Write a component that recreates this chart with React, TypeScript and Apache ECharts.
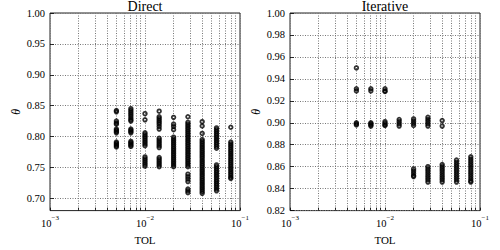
import React, { useEffect, useRef } from "react";
import * as echarts from "echarts";

const TOL = [0.005, 0.0071, 0.01, 0.0141, 0.02, 0.0283, 0.04, 0.0566, 0.08];

const directTheta: number[][] = [
  [0.842, 0.84, 0.825, 0.822, 0.82, 0.812, 0.81, 0.808, 0.806, 0.791, 0.789, 0.787, 0.785, 0.783],
  [0.845, 0.842, 0.839, 0.836, 0.833, 0.83, 0.827, 0.825, 0.812, 0.81, 0.808, 0.806, 0.792, 0.79, 0.788, 0.786, 0.784],
  [0.837, 0.827, 0.806, 0.803, 0.8, 0.797, 0.794, 0.791, 0.788, 0.785, 0.767, 0.764, 0.761, 0.758, 0.755, 0.752],
  [0.841, 0.832, 0.829, 0.826, 0.823, 0.82, 0.816, 0.812, 0.797, 0.794, 0.791, 0.788, 0.785, 0.782, 0.766, 0.763, 0.76, 0.757, 0.754, 0.751],
  [0.831, 0.82, 0.816, 0.811, 0.799, 0.796, 0.793, 0.79, 0.787, 0.784, 0.781, 0.778, 0.775, 0.772, 0.769, 0.766, 0.763, 0.76, 0.757, 0.754, 0.751],
  [0.832, 0.823, 0.82, 0.817, 0.814, 0.811, 0.808, 0.805, 0.802, 0.799, 0.796, 0.793, 0.79, 0.787, 0.784, 0.781, 0.778, 0.775, 0.772, 0.769, 0.766, 0.763, 0.76, 0.757, 0.754, 0.751, 0.739, 0.735, 0.731, 0.727, 0.715, 0.712, 0.709],
  [0.824, 0.817, 0.805, 0.795, 0.792, 0.789, 0.786, 0.783, 0.78, 0.777, 0.774, 0.771, 0.768, 0.765, 0.762, 0.759, 0.756, 0.753, 0.75, 0.747, 0.744, 0.741, 0.738, 0.735, 0.732, 0.729, 0.726, 0.723, 0.72, 0.717, 0.714, 0.711, 0.708],
  [0.814, 0.811, 0.808, 0.805, 0.802, 0.799, 0.796, 0.793, 0.79, 0.787, 0.784, 0.781, 0.754, 0.751, 0.748, 0.745, 0.742, 0.739, 0.736, 0.733, 0.73, 0.727, 0.724, 0.721, 0.718, 0.715, 0.712],
  [0.815, 0.791, 0.788, 0.785, 0.782, 0.779, 0.776, 0.773, 0.77, 0.767, 0.764, 0.761, 0.758, 0.755, 0.752, 0.749, 0.746, 0.743, 0.74, 0.737, 0.734, 0.732],
];

const iterativeTheta: number[][] = [
  [0.95, 0.931, 0.929, 0.9, 0.899, 0.898],
  [0.931, 0.929, 0.9, 0.899, 0.898, 0.897],
  [0.931, 0.929, 0.9285, 0.901, 0.8995, 0.898, 0.8975],
  [0.903, 0.901, 0.899, 0.897],
  [0.9035, 0.9015, 0.8995, 0.8975, 0.858, 0.856, 0.854, 0.852, 0.851],
  [0.905, 0.903, 0.901, 0.899, 0.897, 0.86, 0.858, 0.856, 0.854, 0.852, 0.85, 0.848, 0.846],
  [0.902, 0.897, 0.862, 0.86, 0.858, 0.856, 0.854, 0.852, 0.85, 0.848, 0.846],
  [0.866, 0.864, 0.862, 0.86, 0.858, 0.856, 0.854, 0.852, 0.85, 0.848, 0.846],
  [0.869, 0.867, 0.865, 0.863, 0.861, 0.859, 0.857, 0.855, 0.853, 0.851, 0.849, 0.847, 0.846],
];

const xMajorExponents = [-3, -2, -1];
const xMinorFactors = [1, 2, 3, 4, 5, 6, 7, 8, 9];
const directYTicks = [0.7, 0.75, 0.8, 0.85, 0.9, 0.95, 1.0];
const iterativeYTicks = [0.82, 0.84, 0.86, 0.88, 0.9, 0.92, 0.94, 0.96, 0.98, 1.0];

const FONT = "Liberation Serif";

function buildPoints(theta: number[][]) {
  const pts: number[][] = [];
  TOL.forEach((t, i) => {
    theta[i].forEach((v) => pts.push([Math.log10(t), v]));
  });
  return pts;
}

export default function App() {
  const ref = useRef<HTMLDivElement>(null);
  useEffect(() => {
    if (!ref.current) return;
    const chart = echarts.init(ref.current, undefined, { renderer: "svg" });
    const gridTicks: number[] = [];
    xMajorExponents.slice(0, -1).forEach((e) => {
      xMinorFactors.forEach((k) => gridTicks.push(Math.log10(k) + e));
    });
    gridTicks.push(xMajorExponents[xMajorExponents.length - 1]);

    const grids = [
      { left: 50, width: 190, top: 13, height: 211 },
      { left: 290, width: 190, top: 13, height: 211 },
    ];

    const xAxis = grids.map((_, i) => ({
      type: "value",
      gridIndex: i,
      min: -3,
      max: -1,
      name: "TOL",
      nameLocation: "middle",
      nameGap: 13,
      nameTextStyle: { fontFamily: FONT, fontSize: 11, color: "#000" },
      axisLine: { show: false },
      axisTick: {
        show: true,
        inside: true,
        length: 3,
        customValues: gridTicks,
        lineStyle: { color: "#000", width: 0.8 },
      },
      axisLabel: {
        customValues: xMajorExponents,
        margin: 4,
        formatter: (v: number) => `{b|10}{s|\u2212${Math.round(-v)}}`,
        rich: {
          b: { fontFamily: FONT, fontSize: 10.5, color: "#000", lineHeight: 18 },
          s: { fontFamily: FONT, fontSize: 7, color: "#000", verticalAlign: "top" },
        },
      },
      splitLine: {
        show: true,
        lineStyle: { color: "#777", type: [1, 1.5], width: 1 },
      },
    }));

    const yAxis = [
      { ticks: directYTicks, min: 0.68 },
      { ticks: iterativeYTicks, min: 0.82 },
    ].map((cfg, i) => ({
      type: "value",
      gridIndex: i,
      min: cfg.min,
      max: 1.0,
      name: "\u03b8",
      nameLocation: "middle",
      nameGap: 28,
      nameTextStyle: { fontFamily: FONT, fontSize: 12, fontStyle: "italic", color: "#000" },
      axisLine: { show: false },
      axisTick: {
        show: true,
        inside: true,
        length: 4,
        customValues: cfg.ticks,
        lineStyle: { color: "#000", width: 0.8 },
      },
      axisLabel: {
        customValues: cfg.ticks,
        margin: 5,
        fontFamily: FONT,
        fontSize: 10.5,
        color: "#000",
        formatter: (v: number) => v.toFixed(2),
      },
      splitLine: {
        show: true,
        lineStyle: { color: "#777", type: [1, 1.5], width: 1 },
      },
    }));

    const seriesStyle = {
      type: "scatter",
      symbol: "circle",
      symbolSize: 3.6,
      itemStyle: { color: "transparent", borderColor: "#000", borderWidth: 1.8 },
      silent: true,
    };

    const titleStyle = { fontFamily: FONT, fontSize: 14, fontWeight: "normal", color: "#000" };

    chart.setOption({
      animation: false,
      backgroundColor: "#fff",
      title: [
        { text: "Direct", left: 145, top: -1, padding: 0, textAlign: "center", textStyle: titleStyle },
        { text: "Iterative", left: 385, top: -1, padding: 0, textAlign: "center", textStyle: titleStyle },
      ],
      grid: grids.map((g) => ({ ...g, show: true, borderColor: "#222", borderWidth: 1, backgroundColor: "transparent" })),
      xAxis,
      yAxis,
      series: [
        { ...seriesStyle, name: "Direct", xAxisIndex: 0, yAxisIndex: 0, data: buildPoints(directTheta) },
        { ...seriesStyle, name: "Iterative", xAxisIndex: 1, yAxisIndex: 1, data: buildPoints(iterativeTheta) },
      ],
    });
    return () => chart.dispose();
  }, []);
  return <div ref={ref} style={{ position: "fixed", left: 0, top: 0, width: 500, height: 250 }} />;
}
